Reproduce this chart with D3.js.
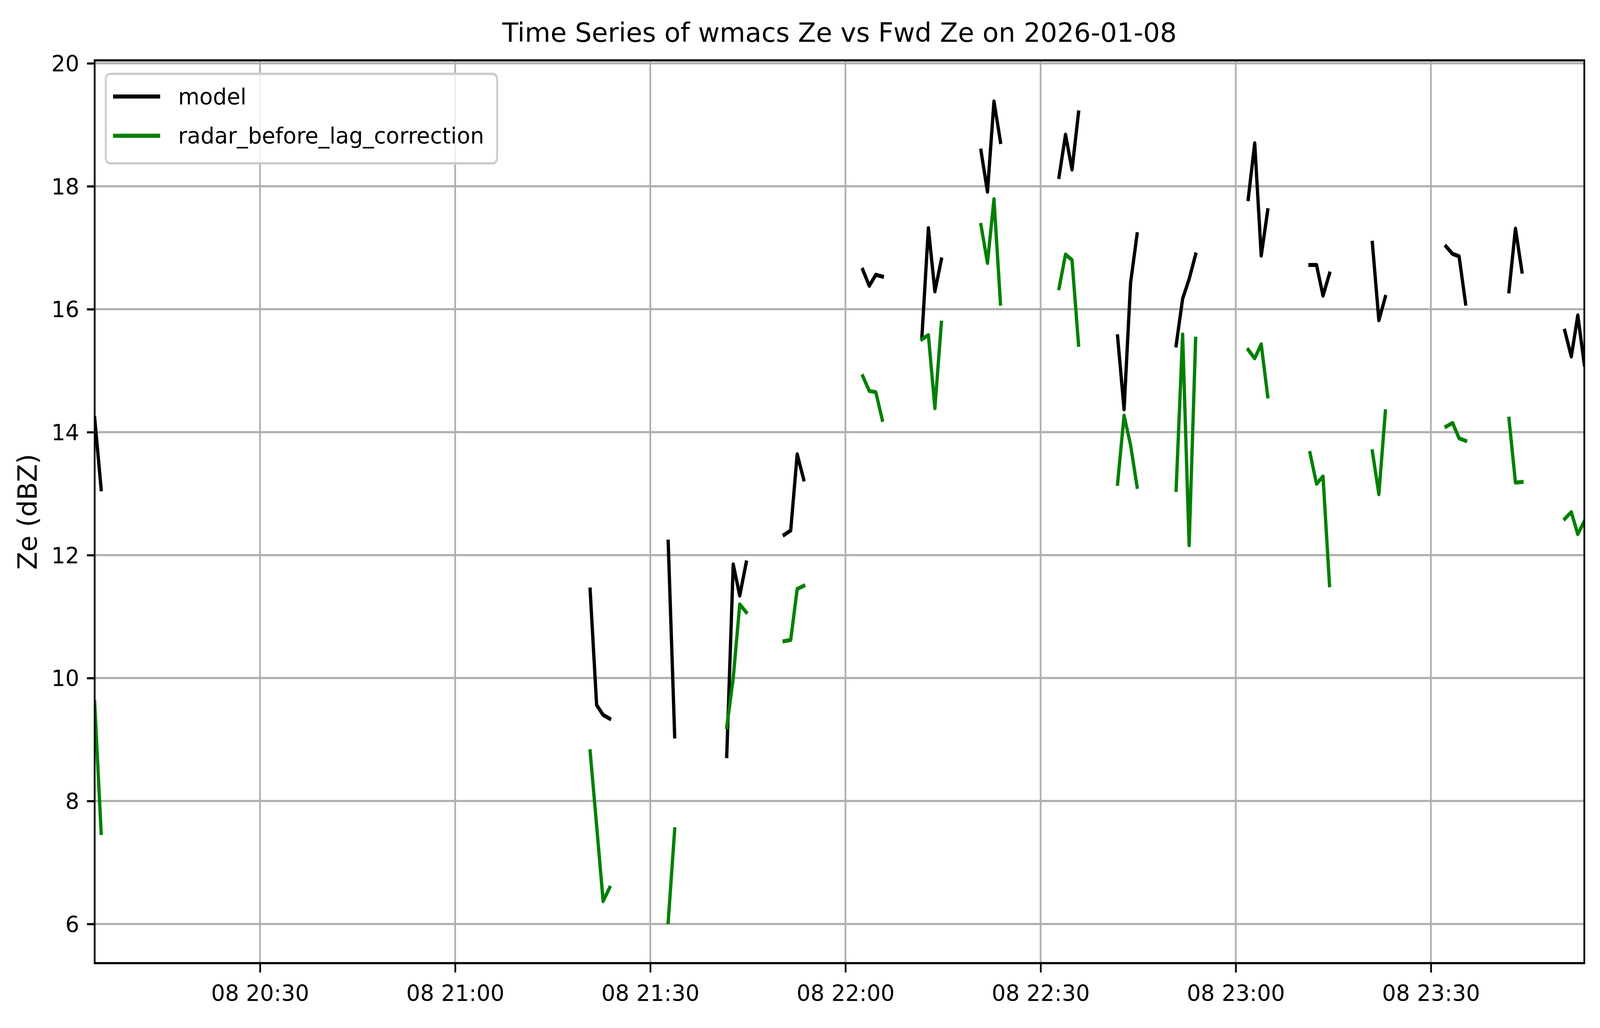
<!DOCTYPE html>
<html><head><meta charset="utf-8">
<script src="https://cdn.jsdelivr.net/npm/d3@7"></script>
<style>html,body{margin:0;padding:0;background:#fff;overflow:hidden;width:100%;height:100%;} svg{display:block;width:100vw;height:100vh;font-family:"DejaVu Sans",sans-serif;}</style>
</head><body><svg id="c" viewBox="0 0 4995 2631" preserveAspectRatio="none"></svg>
<script>
// ---- data (2026-01-08) ----
const times = [
 "20:04:35","20:05:35",
 "21:20:45","21:21:45","21:22:45","21:23:45",
 "21:32:45","21:33:45",
 "21:41:45","21:42:45","21:43:45","21:44:45",
 "21:50:35","21:51:35","21:52:35","21:53:35",
 "22:02:40","22:03:40","22:04:40","22:05:40",
 "22:11:45","22:12:45","22:13:45","22:14:45",
 "22:20:50","22:21:50","22:22:50","22:23:50",
 "22:32:50","22:33:50","22:34:50","22:35:50",
 "22:41:50","22:42:50","22:43:50","22:44:50",
 "22:50:50","22:51:50","22:52:50","22:53:50",
 "23:01:55","23:02:55","23:03:55","23:04:55",
 "23:11:25","23:12:25","23:13:25","23:14:25",
 "23:21:00","23:22:00","23:23:00",
 "23:32:20","23:33:20","23:34:20","23:35:20",
 "23:42:00","23:43:00","23:44:00",
 "23:50:35","23:51:35","23:52:35","23:53:35"
];
const modelZe = [
 14.23,13.07,
 11.44,9.56,9.40,9.34,
 12.22,9.05,
 8.73,11.85,11.34,11.88,
 12.33,12.40,13.64,13.23,
 16.64,16.38,16.56,16.53,
 15.54,17.32,16.29,16.81,
 18.58,17.91,19.38,18.72,
 18.15,18.84,18.27,19.20,
 15.56,14.37,16.43,17.22,
 15.41,16.17,16.49,16.89,
 17.79,18.70,16.87,17.61,
 16.72,16.72,16.22,16.58,
 17.08,15.82,16.20,
 17.02,16.90,16.86,16.09,
 16.29,17.31,16.61,
 15.65,15.23,15.90,15.10
];
const radarZe = [
 9.61,7.48,
 8.81,7.60,6.37,6.59,
 6.03,7.54,
 9.20,10.00,11.20,11.07,
 10.60,10.62,11.45,11.50,
 14.91,14.67,14.65,14.20,
 15.51,15.58,14.39,15.78,
 17.37,16.75,17.79,16.09,
 16.34,16.89,16.80,15.42,
 13.16,14.27,13.79,13.11,
 13.06,15.59,12.16,15.52,
 15.34,15.20,15.43,14.58,
 13.66,13.16,13.28,11.51,
 13.69,12.99,14.34,
 14.09,14.15,13.90,13.86,
 14.22,13.18,13.19,
 12.59,12.70,12.34,12.55
];
const xTickTimes = ["20:30:00","21:00:00","21:30:00","22:00:00","22:30:00","23:00:00","23:30:00"];
const yTickValues = [6,8,10,12,14,16,18,20];
const seriesNames = ["model","radar_before_lag_correction"];
const seriesColors = ["#000000","#008000"];
const titleText = "Time Series of wmacs Ze vs Fwd Ze on 2026-01-08";
const yLabelText = "Ze (dBZ)";
const dateStr = "2026-01-08";

// ---- layout (reference pixel frame 4995 x 2631) ----
const VW = 4995, VH = 2631;
const pt = 6.85;                 // pixels per point
const m = {left:295.5, right:4946, top:154.5, bottom:2465};
const svg = d3.select("#c");
const box = svg.node().getBoundingClientRect();
const sx = (box.width || VW) / VW, sy = (box.height || VH) / VH;
const k = sx / sy;               // keeps glyphs undistorted if the window aspect differs

const parse = d3.timeParse("%Y-%m-%dT%H:%M:%S");
const T = times.map(s => parse(dateStr + "T" + s));

const x = d3.scaleTime().domain(d3.extent(T)).range([m.left, m.right]);
const allV = modelZe.concat(radarZe);
const [lo, hi] = d3.extent(allV);
const pad = (hi - lo) * 0.05;
const y = d3.scaleLinear().domain([lo - pad, hi + pad]).range([m.bottom, m.top]);

const xTicks = xTickTimes.map(s => parse(dateStr + "T" + s));

svg.append("rect").attr("x", 0).attr("y", 0).attr("width", VW).attr("height", VH).attr("fill", "#fff");

// grid
const grid = svg.append("g");
grid.selectAll("line.v").data(xTicks).join("line")
  .attr("x1", d => x(d)).attr("x2", d => x(d))
  .attr("y1", m.top).attr("y2", m.bottom)
  .attr("stroke", "#b0b0b0").attr("stroke-width", 0.8 * pt);
grid.selectAll("line.h").data(yTickValues).join("line")
  .attr("x1", m.left).attr("x2", m.right)
  .attr("y1", d => y(d)).attr("y2", d => y(d))
  .attr("stroke", "#b0b0b0").attr("stroke-width", 0.8 * pt);

// clip
svg.append("clipPath").attr("id", "clip").append("rect")
  .attr("x", m.left).attr("y", m.top)
  .attr("width", m.right - m.left).attr("height", m.bottom - m.top);

// build segments (break where gap > 90 s)
function segments(vals) {
  const segs = []; let cur = [];
  T.forEach((t, i) => {
    if (i > 0 && (t - T[i - 1]) > 90000) { segs.push(cur); cur = []; }
    cur.push({t: t, v: vals[i]});
  });
  segs.push(cur);
  return segs;
}
const line = d3.line().x(d => x(d.t)).y(d => y(d.v));
const plot = svg.append("g").attr("clip-path", "url(#clip)");
[modelZe, radarZe].forEach((vals, i) => {
  plot.append("g").selectAll("path").data(segments(vals)).join("path")
    .attr("d", line)
    .attr("fill", "none")
    .attr("stroke", seriesColors[i])
    .attr("stroke-width", 1.5 * pt)
    .attr("stroke-linejoin", "round")
    .attr("stroke-linecap", "square");
});

// axes
const fs = 10 * pt;
const xAxis = svg.append("g").attr("transform", `translate(0,${m.bottom})`)
  .call(d3.axisBottom(x).tickValues(xTicks).tickFormat(d3.timeFormat("%d %H:%M"))
        .tickSize(3.5 * pt).tickPadding(3.5 * pt));
xAxis.select(".domain").remove();
xAxis.selectAll("line").attr("stroke", "#000").attr("stroke-width", 0.8 * pt);
xAxis.selectAll("text").attr("font-size", fs).attr("font-family", "DejaVu Sans")
  .attr("fill", "#000").attr("y", 102).attr("dy", null)
  .attr("transform", `translate(0,76) scale(1,${k}) translate(0,-76)`);

const yAxis = svg.append("g").attr("transform", `translate(${m.left},0)`)
  .call(d3.axisLeft(y).tickValues(yTickValues).tickFormat(d3.format("d"))
        .tickSize(3.5 * pt).tickPadding(3.5 * pt));
yAxis.select(".domain").remove();
yAxis.selectAll("line").attr("stroke", "#000").attr("stroke-width", 0.8 * pt);
yAxis.selectAll("text").attr("font-size", fs).attr("font-family", "DejaVu Sans")
  .attr("fill", "#000").attr("dy", null).attr("y", 25)
  .attr("transform", `scale(1,${k})`);

// spines
svg.append("rect").attr("x", m.left).attr("y", m.top)
  .attr("width", m.right - m.left).attr("height", m.bottom - m.top)
  .attr("fill", "none").attr("stroke", "#000").attr("stroke-width", 0.8 * pt);

// title
const tx = (m.left + m.right) / 2, tyy = 112;
svg.append("text").attr("x", tx).attr("y", tyy)
  .attr("text-anchor", "middle").attr("font-size", 12 * pt).attr("fill", "#000")
  .attr("transform", `translate(0,${tyy - 30}) scale(1,${k}) translate(0,${-(tyy - 30)})`)
  .text(titleText);

// y label
svg.append("text").attr("transform", `translate(115,${(m.top + m.bottom) / 2}) rotate(-90) scale(${k},1)`)
  .attr("text-anchor", "middle").attr("font-size", 12 * pt).attr("fill", "#000")
  .text(yLabelText);

// legend
const lg = svg.append("g");
lg.append("rect").attr("x", 330).attr("y", 189).attr("width", 1222).attr("height", 229)
  .attr("rx", 14).attr("ry", 14)
  .attr("fill", "#fff").attr("fill-opacity", 0.8)
  .attr("stroke", "#cccccc").attr("stroke-width", 1.0 * pt * 0.85);
seriesNames.forEach((name, i) => {
  const cy = 247 + i * 100.5;
  lg.append("line").attr("x1", 353).attr("x2", 500).attr("y1", cy).attr("y2", cy)
    .attr("stroke", seriesColors[i]).attr("stroke-width", 1.5 * pt);
  lg.append("text").attr("x", 556).attr("y", cy + 24)
    .attr("font-size", fs).attr("fill", "#000")
    .attr("transform", `translate(0,${cy}) scale(1,${k}) translate(0,${-cy})`)
    .text(name);
});
</script></body></html>
